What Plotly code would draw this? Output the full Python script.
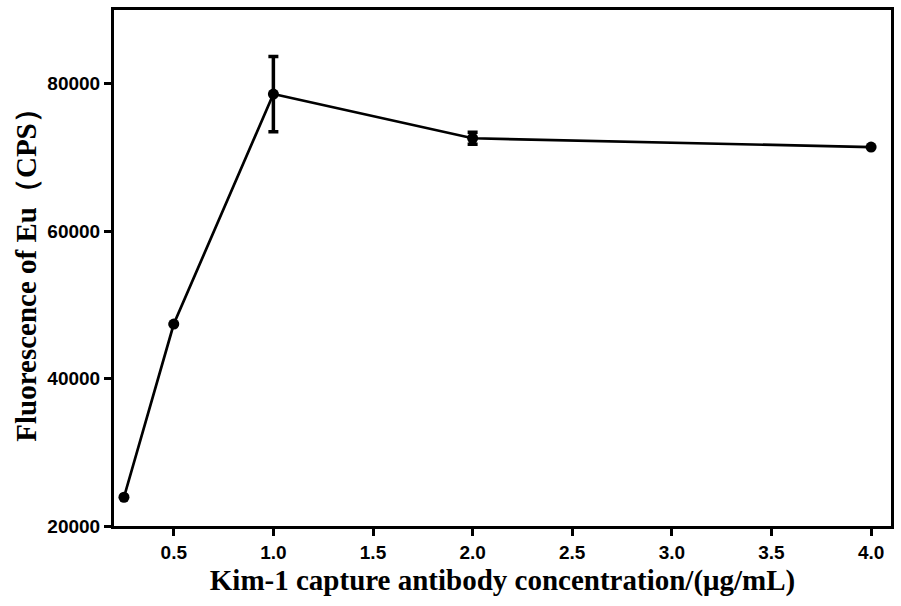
import plotly.graph_objects as go

# Capture antibody concentration (μg/mL) and Eu fluorescence (CPS)
concentration = [0.25, 0.5, 1.0, 2.0, 4.0]
fluorescence = [23900, 47400, 78600, 72600, 71400]
fluorescence_sd = [0, 0, 5100, 800, 0]

x_ticks = [0.5, 1.0, 1.5, 2.0, 2.5, 3.0, 3.5, 4.0]
y_ticks = [20000, 40000, 60000, 80000]

fig = go.Figure()
fig.add_trace(go.Scatter(
    x=concentration,
    y=fluorescence,
    mode="lines+markers",
    line=dict(color="black", width=2.7),
    marker=dict(color="black", size=11),
    error_y=dict(type="data", array=fluorescence_sd, visible=True,
                 color="black", thickness=3.5, width=5),
    showlegend=False,
))

tick_font = dict(family="Liberation Sans, Arial, sans-serif", size=19, color="black")
title_font = dict(family="Liberation Serif, Times New Roman, serif", size=29, color="black")

fig.update_xaxes(
    range=[0.2, 4.1],
    tickvals=x_ticks,
    ticktext=[f"<b>{v:.1f}</b>" for v in x_ticks],
    ticks="outside", ticklen=7, tickwidth=3, tickcolor="black",
    showline=True, linewidth=3, linecolor="black", mirror=True,
    showgrid=False, zeroline=False,
    tickfont=tick_font,
    title=dict(text="<b>Kim-1 capture antibody concentration/(μg/mL)</b>",
               font=title_font, standoff=8),
)
fig.update_yaxes(
    range=[20000, 90000],
    tickvals=y_ticks,
    ticktext=[f"<b>{v}</b>" for v in y_ticks],
    ticks="outside", ticklen=7, tickwidth=3, tickcolor="black",
    showline=True, linewidth=3, linecolor="black", mirror=True,
    showgrid=False, zeroline=False,
    tickfont=tick_font,
    title=dict(text="<b>Fluorescence of Eu（CPS）</b>",
               font=title_font, standoff=3),
)

fig.update_layout(
    width=901, height=606,
    margin=dict(l=114, r=10, t=7, b=80),
    plot_bgcolor="white",
    paper_bgcolor="white",
)

fig.write_html("out.html")
